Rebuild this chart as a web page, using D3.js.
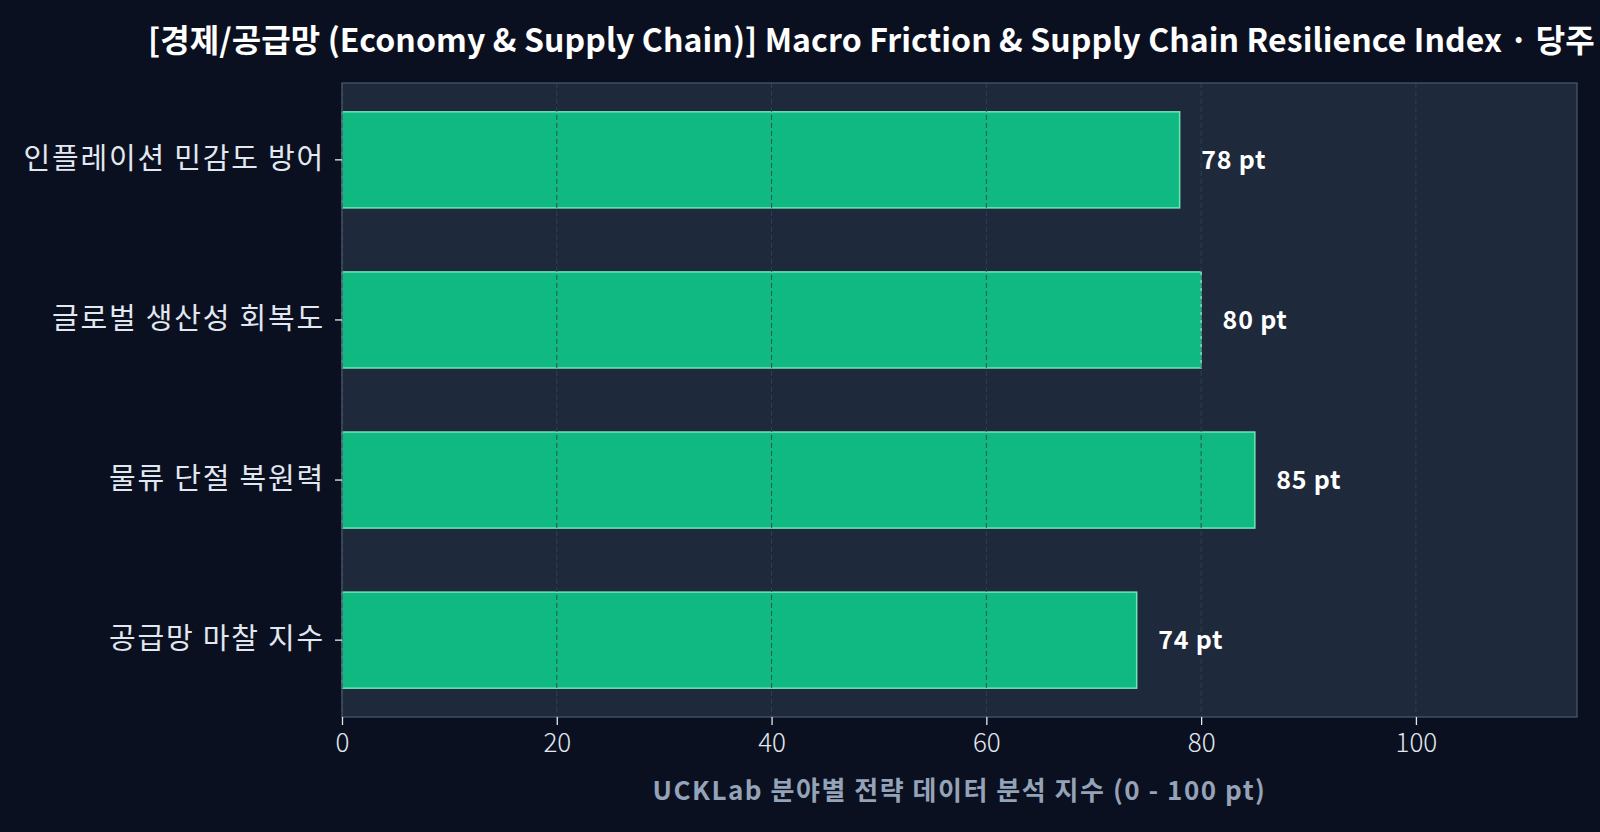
<!DOCTYPE html>
<html>
<head>
<meta charset="utf-8">
<script src="https://cdn.jsdelivr.net/npm/d3@7"></script>
<style>
  html, body { margin:0; padding:0; background:#0b1020; }
  svg { display:block; font-family:"Noto Sans CJK KR","Noto Sans",sans-serif; }
</style>
</head>
<body>
<svg id="chart" width="1600" height="832"></svg>
<script>
// data (top to bottom as drawn)
const categories = ['인플레이션 민감도 방어', '글로벌 생산성 회복도', '물류 단절 복원력', '공급망 마찰 지수'];
const values = [78, 80, 85, 74];
const xTicks = [0, 20, 40, 60, 80, 100];
const titleText = '[경제/공급망 (Economy & Supply Chain)] Macro Friction & Supply Chain Resilience Index · 당주';
const xLabel = 'UCKLab 분야별 전략 데이터 분석 지수 (0 - 100 pt)';

const svg = d3.select('#chart');
const W = 1600, H = 832;
const margin = {top:83, right:23, bottom:115, left:342};
const innerW = W - margin.left - margin.right, innerH = H - margin.top - margin.bottom;

// spread text with letter-spacing so it covers a given width
function fitWidth(sel, target){
  sel.each(function(){
    const t = d3.select(this);
    const n = t.text().length;
    const w = this.getComputedTextLength();
    if (w > 0 && n > 1) t.attr('letter-spacing', ((target - w) / n).toFixed(2) + 'px');
  });
}

svg.append('rect').attr('width', W).attr('height', H).attr('fill', '#0b1020');

const g = svg.append('g').attr('transform', `translate(${margin.left},${margin.top})`);

const x = d3.scaleLinear().domain([0, 115]).range([0, innerW]);
const y = d3.scaleBand().domain(categories).range([0, innerH]).paddingInner(0.4).paddingOuter(0.18);

// plot background
g.append('rect').attr('width', innerW).attr('height', innerH).attr('fill', '#1e293b');

// bars
g.selectAll('rect.bar').data(categories).join('rect')
  .attr('class', 'bar')
  .attr('x', x(0))
  .attr('y', d => y(d))
  .attr('width', (d, i) => x(values[i]) - x(0))
  .attr('height', y.bandwidth())
  .attr('fill', '#10b981')
  .attr('stroke', '#6ee7b7')
  .attr('stroke-width', 1.5);

// grid over bars
g.append('g').selectAll('line').data(xTicks).join('line')
  .attr('x1', d => x(d)).attr('x2', d => x(d))
  .attr('y1', 0).attr('y2', innerH)
  .attr('stroke', '#334155').attr('stroke-opacity', 0.9)
  .attr('stroke-dasharray', '5,3').attr('stroke-width', 1);

// value labels
g.selectAll('text.val').data(categories).join('text')
  .attr('class', 'val')
  .attr('x', (d, i) => x(values[i] + 2))
  .attr('y', d => y(d) + y.bandwidth() / 2)
  .attr('dy', '0.35em')
  .attr('fill', '#ffffff')
  .attr('font-size', '25px')
  .attr('font-weight', 'bold')
  .attr('letter-spacing', '0.8px')
  .text((d, i) => `${values[i]} pt`);

// frame
g.append('rect').attr('width', innerW).attr('height', innerH)
  .attr('fill', 'none').attr('stroke', '#475569').attr('stroke-width', 1.3);

// axes
const xAxis = g.append('g').attr('transform', `translate(0,${innerH})`)
  .call(d3.axisBottom(x).tickValues(xTicks).tickSize(8).tickPadding(9));
xAxis.select('.domain').remove();
xAxis.selectAll('line').attr('stroke', '#e2e8f0').attr('stroke-width', 1.3);
xAxis.selectAll('text').attr('fill', '#e2e8f0').attr('font-size', '26px')
  .attr('font-family', '"Noto Sans CJK KR",sans-serif').attr('font-weight', 300);

const yAxis = g.append('g')
  .call(d3.axisLeft(y).tickSize(7).tickPadding(10));
yAxis.select('.domain').remove();
yAxis.selectAll('line').attr('stroke', '#e2e8f0').attr('stroke-width', 1.3);
yAxis.selectAll('text').attr('fill', '#e2e8f0').attr('font-size', '29px')
  .attr('font-family', '"Noto Sans CJK KR",sans-serif')
  .attr('letter-spacing', '1.8px');

// axis title
const xl = svg.append('text')
  .attr('x', margin.left + innerW / 2).attr('y', 800)
  .attr('text-anchor', 'middle')
  .attr('fill', '#94a3b8')
  .attr('font-size', '26px').attr('font-weight', 'bold')
  .text(xLabel);
fitWidth(xl, 614);

// title (runs off the right edge in the reference)
const title = svg.append('text')
  .attr('x', 148).attr('y', 52)
  .attr('fill', '#ffffff')
  .attr('font-size', '32px').attr('font-weight', 'bold')
  .text(titleText);
fitWidth(title, 1595 - 148);
</script>
</body>
</html>
